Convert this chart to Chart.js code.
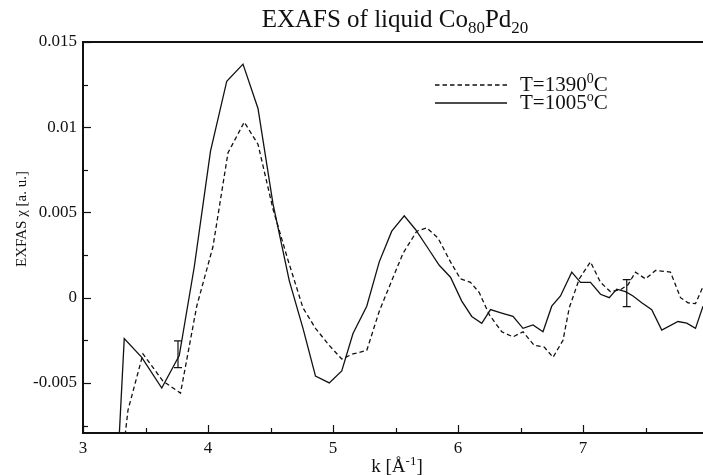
<!DOCTYPE html>
<html>
<head>
<meta charset="utf-8">
<script src="https://cdn.jsdelivr.net/npm/chart.js@4.4.1/dist/chart.umd.min.js"></script>
<style>
  html, body { margin: 0; padding: 0; background: #fff; }
  #chart { display: block; }
</style>
</head>
<body>
<canvas id="chart" width="703" height="475"></canvas>
<script>
// T = 1005 C (solid line)
const kSolid = [3.28, 3.33, 3.47, 3.63, 3.77, 3.89, 4.02, 4.15, 4.28, 4.40, 4.52, 4.65, 4.76, 4.86, 4.97,
  5.07, 5.16, 5.27, 5.37, 5.47, 5.57, 5.66, 5.76, 5.85, 5.94, 6.03, 6.11, 6.19, 6.26, 6.35, 6.44, 6.52,
  6.60, 6.68, 6.75, 6.82, 6.91, 6.98, 7.06, 7.14, 7.21, 7.27, 7.34, 7.40, 7.47, 7.55, 7.63, 7.76, 7.83,
  7.90, 7.96];
const chiSolid = [-0.0095, -0.0024, -0.0035, -0.0053, -0.0034, 0.0018, 0.0086, 0.0127, 0.0137, 0.0111,
  0.0055, 0.0010, -0.0018, -0.0046, -0.0050, -0.0043, -0.0021, -0.0005, 0.0021, 0.0039, 0.0048, 0.0040,
  0.0029, 0.0019, 0.0012, -0.0002, -0.0011, -0.0015, -0.0007, -0.0009, -0.0011, -0.0018, -0.0016,
  -0.0020, -0.0005, 0.0001, 0.0015, 0.0009, 0.0009, 0.0002, 0.0000, 0.0005, 0.00035, 0.0001, -0.0003,
  -0.0007, -0.0019, -0.0014, -0.0015, -0.0018, -0.0005];

// T = 1390 C (dashed line)
const kDashed = [3.33, 3.36, 3.48, 3.64, 3.78, 3.91, 4.04, 4.16, 4.29, 4.40, 4.52, 4.64, 4.76,
  4.86, 4.97, 5.07, 5.16, 5.27, 5.37, 5.47, 5.56, 5.67, 5.75, 5.84, 5.94, 6.02, 6.10, 6.17, 6.25, 6.35,
  6.44, 6.52, 6.61, 6.69, 6.76, 6.84, 6.89, 6.97, 7.06, 7.14, 7.22, 7.30, 7.36, 7.42, 7.50, 7.58, 7.70,
  7.78, 7.84, 7.90, 7.96];
const chiDashed = [-0.0085, -0.0066, -0.0033, -0.0049, -0.0056, -0.0005, 0.0030, 0.0085,
  0.0103, 0.0090, 0.0052, 0.0022, -0.0006, -0.0018, -0.0028, -0.0036, -0.0033, -0.0031, -0.0008, 0.0010,
  0.0026, 0.0039, 0.0041, 0.0035, 0.0021, 0.0011, 0.0009, 0.0003, -0.0010, -0.0020, -0.0023, -0.0020,
  -0.0028, -0.0029, -0.0035, -0.0025, -0.0006, 0.0011, 0.0021, 0.0009, 0.00035, 0.00047, 0.00076,
  0.0015, 0.0011, 0.0016, 0.0015, 0.0000, -0.0003, -0.00035, 0.00065];

// error bars
const errK = [3.76, 7.35];
const errLow = [-0.0041, -0.00053];
const errHigh = [-0.00253, 0.00106];

// axes
const xMajor = [3, 4, 5, 6, 7];
const xMinor = [3.5, 4.5, 5.5, 6.5, 7.5];
const yMajor = [-0.005, 0, 0.005, 0.01, 0.015];
const yMinor = [-0.0075, -0.0025, 0.0025, 0.0075, 0.0125];

const SERIF = "'Liberation Serif', 'Times New Roman', serif";

const toPoints = (ks, vs) => ks.map((k, i) => ({ x: k, y: vs[i] }));

// text with sub/superscripts: parts = [[text, 'n'|'sub'|'sup'], ...]
function drawRich(ctx, parts, x, y, size, align) {
  const small = Math.round(size * 0.68);
  let total = 0;
  parts.forEach(([t, m]) => {
    ctx.font = (m === "n" ? size : small) + "px " + SERIF;
    total += ctx.measureText(t).width;
  });
  let cx = align === "center" ? x - total / 2 : x;
  ctx.textAlign = "left";
  ctx.textBaseline = "alphabetic";
  parts.forEach(([t, m]) => {
    ctx.font = (m === "n" ? size : small) + "px " + SERIF;
    let dy = 0;
    if (m === "sub") dy = size * 0.25;
    if (m === "sup") dy = -size * 0.38;
    ctx.fillText(t, cx, y + dy);
    cx += ctx.measureText(t).width;
  });
}

const decorations = {
  id: "decorations",
  afterDraw(chart) {
    const { ctx, chartArea, scales } = chart;
    const xs = scales.x, ys = scales.y;
    ctx.save();
    ctx.fillStyle = "#111";
    ctx.strokeStyle = "#111";

    // top frame line
    ctx.lineWidth = 2;
    ctx.beginPath();
    ctx.moveTo(chartArea.left, chartArea.top);
    ctx.lineTo(chartArea.right, chartArea.top);
    ctx.stroke();

    // inward ticks
    ctx.lineWidth = 1.2;
    const tickX = (v, len) => {
      const px = Math.round(xs.getPixelForValue(v)) + 0.5;
      ctx.beginPath();
      ctx.moveTo(px, chartArea.bottom);
      ctx.lineTo(px, chartArea.bottom - len);
      ctx.stroke();
    };
    const tickY = (v, len) => {
      const py = Math.round(ys.getPixelForValue(v)) + 0.5;
      ctx.beginPath();
      ctx.moveTo(chartArea.left, py);
      ctx.lineTo(chartArea.left + len, py);
      ctx.stroke();
    };
    xMajor.forEach(v => tickX(v, 8));
    xMinor.forEach(v => tickX(v, 5));
    yMajor.forEach(v => tickY(v, 8));
    yMinor.forEach(v => tickY(v, 5));

    // error bars
    ctx.lineWidth = 1.2;
    errK.forEach((k, i) => {
      const px = xs.getPixelForValue(k);
      const y1 = ys.getPixelForValue(errLow[i]);
      const y2 = ys.getPixelForValue(errHigh[i]);
      ctx.beginPath();
      ctx.moveTo(px, y1); ctx.lineTo(px, y2);
      ctx.moveTo(px - 4, y1); ctx.lineTo(px + 4, y1);
      ctx.moveTo(px - 4, y2); ctx.lineTo(px + 4, y2);
      ctx.stroke();
    });

    // title
    drawRich(ctx, [["EXAFS of liquid Co", "n"], ["80", "sub"], ["Pd", "n"], ["20", "sub"]],
      395, 27, 25, "center");

    // legend
    chart.data.datasets.forEach((ds, i) => {
      const ly = 85 + i * 18;
      ctx.lineWidth = ds.borderWidth;
      ctx.setLineDash(ds.borderDash || []);
      ctx.beginPath();
      ctx.moveTo(435, ly);
      ctx.lineTo(507, ly);
      ctx.stroke();
      ctx.setLineDash([]);
      drawRich(ctx, ds.legendParts, 520, ly + 6, 21, "left");
    });

    // axis titles
    drawRich(ctx, [["k [Å", "n"], ["-1", "sup"], ["]", "n"]], 397, 472, 19, "center");
    ctx.translate(22, 219);
    ctx.rotate(-Math.PI / 2);
    ctx.font = "15px " + SERIF;
    ctx.textAlign = "center";
    ctx.textBaseline = "middle";
    ctx.fillText("EXFAS χ [a. u.]", 0, 0);
    ctx.restore();
  }
};

new Chart(document.getElementById("chart"), {
  type: "line",
  data: {
    datasets: [
      {
        label: "T=1390°C",
        legendParts: [["T=1390", "n"], ["0", "sup"], ["C", "n"]],
        data: toPoints(kDashed, chiDashed),
        borderColor: "#111",
        borderWidth: 1.3,
        borderDash: [4.5, 3],
        pointRadius: 0,
        tension: 0,
        fill: false
      },
      {
        label: "T=1005°C",
        legendParts: [["T=1005", "n"], ["o", "sup"], ["C", "n"]],
        data: toPoints(kSolid, chiSolid),
        borderColor: "#111",
        borderWidth: 1.3,
        pointRadius: 0,
        tension: 0,
        fill: false
      }
    ]
  },
  options: {
    responsive: false,
    animation: false,
    devicePixelRatio: 1,
    layout: { padding: { top: 42, right: 0, left: 0, bottom: 0 } },
    plugins: {
      legend: { display: false },
      title: { display: false },
      tooltip: { enabled: false }
    },
    scales: {
      x: {
        type: "linear",
        min: 3,
        max: 7.96,
        afterFit: (scale) => { scale.height = 42; },
        afterBuildTicks: (scale) => { scale.ticks = xMajor.map(v => ({ value: v })); },
        grid: { display: false, drawTicks: false },
        border: { display: true, color: "#111", width: 2 },
        ticks: {
          color: "#111",
          padding: 5,
          maxRotation: 0,
          font: { family: SERIF, size: 17 },
          callback: (v) => String(v)
        }
      },
      y: {
        type: "linear",
        min: -0.00794,
        max: 0.015,
        afterFit: (scale) => { scale.width = 83; },
        afterBuildTicks: (scale) => { scale.ticks = yMajor.map(v => ({ value: v })); },
        grid: { display: false, drawTicks: false },
        border: { display: true, color: "#111", width: 2 },
        ticks: {
          color: "#111",
          padding: 6,
          font: { family: SERIF, size: 17 },
          callback: (v) => String(Math.round(v * 1000) / 1000)
        }
      }
    }
  },
  plugins: [decorations]
});
</script>
</body>
</html>
